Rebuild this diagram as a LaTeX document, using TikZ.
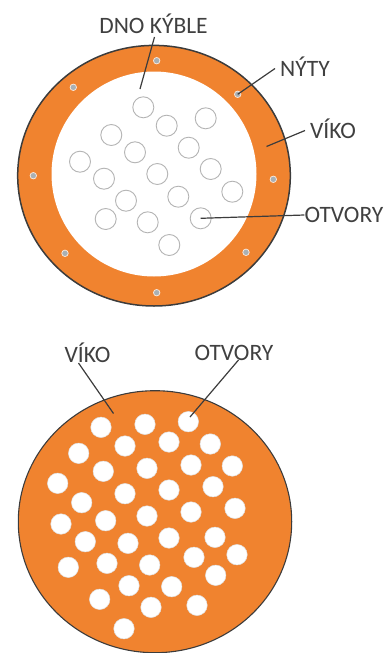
\documentclass[tikz,border=0pt]{standalone}
\usepackage{fontspec}
\setmainfont{Carlito}
\definecolor{lid}{HTML}{F0832F}
\definecolor{ink}{HTML}{3C3C3C}
\definecolor{lbl}{HTML}{404040}
\definecolor{holeline}{HTML}{B4B4B4}
\definecolor{rivet}{HTML}{A9B0B4}
\tikzset{
  lidshape/.style={fill=lid,draw=ink,line width=1.1pt},
  topshape/.style={lidshape,line width=1.5pt},
  bottomfloor/.style={fill=white,draw=none},
  openhole/.style={circle,draw=holeline,line width=0.9pt,fill=white,minimum size=21pt,inner sep=0pt},
  cuthole/.style={circle,fill=white,draw=white!88!black,line width=0.5pt,minimum size=20.5pt,inner sep=0pt},
  rivetdot/.style={circle,fill=rivet,draw=white!85!lid,line width=0.7pt,minimum size=6.5pt,inner sep=0pt},
  lab/.style={font=\fontsize{23.5}{25}\selectfont,text=lbl,inner sep=0pt},
  leader/.style={draw=ink,line width=1.2pt}
}
\begin{document}
\begin{tikzpicture}[x=1pt,y=-1pt]
\useasboundingbox (0,0) rectangle (385,653);
% upper drawing
\path[topshape] (154,175.7) ellipse [x radius=136.3,y radius=130.3];
\path[bottomfloor] (154,174) ellipse [x radius=102.5,y radius=102.5];
\foreach \n/\x/\y in {1/143.3/107.3,2/166.7/125.7,3/205.7/118.3,4/111.3/135,5/135/152.3,6/188.7/147.7,7/80/161.7,8/157.3/174,9/210.7/169,10/104/178.7,11/232.3/191.7,12/178.3/196.7,13/126/200.7,14/105.7/219,15/147.7/222.3,16/200.7/218.3,17/169.3/245}
  \node[openhole] (h\n) at (\x,\y) {};
\foreach \n/\x/\y in {1/156.7/60.7,2/73.3/87.3,3/237.7/94.3,4/33.3/175.7,5/273.3/179.3,6/65/253.3,7/246/252.3,8/156.7/292.7}
  \node[rivetdot] (r\n) at (\x,\y) {};
% lower drawing
\path[lidshape] (155,521.7) ellipse [x radius=136.7,y radius=131];
\foreach \n/\x/\y in {1/101/427.3,2/145/424.3,3/188.3/421.7,4/125/446,5/169/442,6/210.3/444,7/78.7/453.3,8/103.3/471.3,9/147/468.3,10/191/465,11/232.3/466,12/57.7/483.3,13/125/493.7,14/169/490,15/213/486.7,16/81.7/502.7,17/147/516,18/191/512,19/235/508.3,20/61/524,21/105.7/520.7,22/85.3/541.7,23/128/543.3,24/169/538,25/215/537.3,26/68.3/567.3,27/107/563.3,28/149.7/565,29/194/557.3,30/237/554.7,31/215.7/575.3,32/129/585.7,33/171.7/586.7,34/99.7/599.3,35/151/607.3,36/197/605.3,37/124/628.7}
  \node[cuthole] (c\n) at (\x,\y) {};
% labels
\node[lab] (dno) at (153.5,23.5) {DNO KÝBLE};
\node[lab] (nyty) at (305,66.5) {NÝTY};
\node[lab] (viko) at (333,129) {VÍKO};
\node[lab] (otvory) at (344,215) {OTVORY};
\node[lab] (viko2) at (87.5,353) {VÍKO};
\node[lab] (otvory2) at (234,353) {OTVORY};
% leader ends
\coordinate (dnostart) at (154.5,37);
\coordinate (dnoend) at (140,89);
\coordinate (nytystart) at (275,68.5);
\coordinate (vikostart) at (305,130.5);
\coordinate (vikoend) at (266.5,146.5);
\coordinate (viko2start) at (78.5,363);
\coordinate (viko2end) at (113.5,413.5);
\coordinate (otvory2start) at (238.5,360);
\coordinate (otvory2end) at (190,417);
\draw[leader] (dnostart) -- (dnoend);
\draw[leader] (nytystart) -- (r3.center);
\draw[leader] (vikostart) -- (vikoend);
\draw[leader] (otvory.west) -- (h16.center);
\draw[leader] (viko2start) -- (viko2end);
\draw[leader] (otvory2start) -- (otvory2end);
\end{tikzpicture}
\end{document}
